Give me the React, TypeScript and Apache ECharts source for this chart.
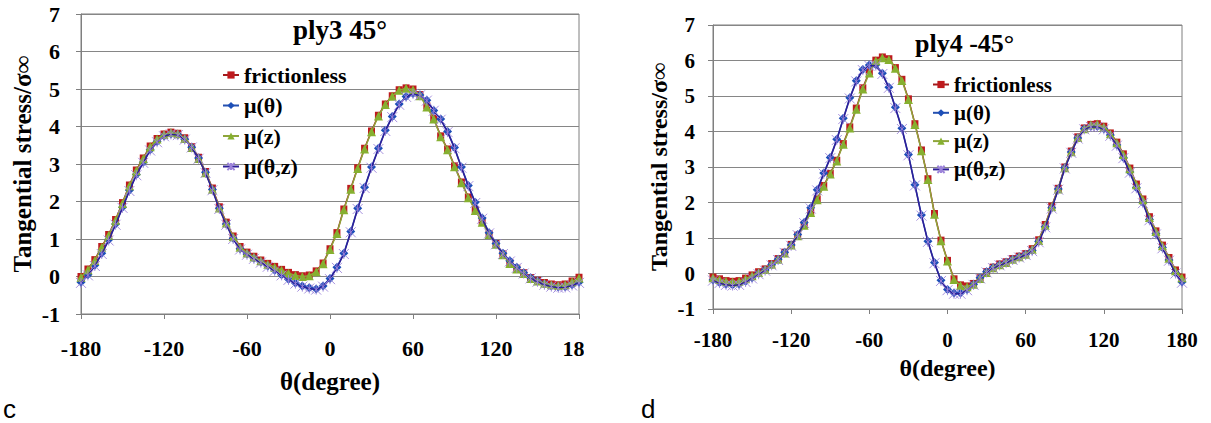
import React, { useEffect, useRef } from "react";
import * as echarts from "echarts";

const THETA = [
  -180, -175, -170, -165, -160, -155, -150, -145, -140, -135, -130, -125, -120,
  -115, -110, -105, -100, -95, -90, -85, -80, -75, -70, -65, -60, -55, -50, -45,
  -40, -35, -30, -25, -20, -15, -10, -5, 0, 5, 10, 15, 20, 25, 30, 35, 40, 45, 50,
  55, 60, 65, 70, 75, 80, 85, 90, 95, 100, 105, 110, 115, 120, 125, 130, 135, 140,
  145, 150, 155, 160, 165, 170, 175, 180,
];

const SERIES_NAMES = ["frictionless", "μ(θ)", "μ(z)", "μ(θ,z)"];

// ---- ply3 45° ----
const PLY3_FRICTIONLESS = [
  0.0, 0.2, 0.45, 0.8, 1.12, 1.52, 1.97, 2.44, 2.84, 3.16, 3.48, 3.68, 3.8,
  3.85, 3.82, 3.7, 3.46, 3.18, 2.8, 2.36, 1.86, 1.45, 1.08, 0.8, 0.65, 0.54, 0.44, 0.35,
  0.27, 0.19, 0.11, 0.05, 0.02, 0.04, 0.15, 0.36, 0.74, 1.17, 1.8, 2.35, 2.9, 3.42, 3.88, 4.3, 4.6, 4.82, 4.98,
  5.03, 5.0, 4.85, 4.55, 4.22, 3.75, 3.4, 2.95, 2.52, 2.12, 1.78, 1.47, 1.14, 0.88, 0.6, 0.37, 0.22, 0.1,
  -0.03, -0.1, -0.16, -0.2, -0.22, -0.2, -0.12, -0.02,
];
const PLY3_MU_THETA = [
  -0.15, 0.05, 0.3, 0.62, 0.98, 1.4, 1.85, 2.3, 2.72, 3.05, 3.38, 3.6, 3.75,
  3.8, 3.78, 3.66, 3.45, 3.16, 2.78, 2.32, 1.82, 1.4, 1.02, 0.74, 0.6, 0.49, 0.39, 0.28,
  0.17, 0.05, -0.07, -0.17, -0.25, -0.3, -0.33, -0.25, -0.05, 0.25, 0.62, 1.2, 1.82, 2.38, 2.92, 3.42, 3.9, 4.27, 4.6,
  4.8, 4.88, 4.84, 4.7, 4.43, 4.2, 3.87, 3.44, 2.92, 2.43, 1.98, 1.56, 1.17, 0.88, 0.62, 0.42, 0.25, 0.1,
  -0.03, -0.12, -0.2, -0.25, -0.28, -0.27, -0.22, -0.15,
];
const PLY3_MU_Z = [
  -0.02, 0.18, 0.43, 0.78, 1.1, 1.5, 1.95, 2.42, 2.82, 3.14, 3.46, 3.67, 3.79,
  3.84, 3.81, 3.68, 3.44, 3.15, 2.77, 2.33, 1.83, 1.43, 1.06, 0.78, 0.63, 0.52, 0.42, 0.33,
  0.25, 0.17, 0.09, 0.03, 0.0, 0.02, 0.13, 0.34, 0.72, 1.15, 1.78, 2.33, 2.88, 3.4, 3.86, 4.28, 4.59, 4.81, 4.97,
  5.02, 4.98, 4.82, 4.52, 4.2, 3.73, 3.38, 2.93, 2.5, 2.1, 1.76, 1.45, 1.12, 0.86, 0.58, 0.35, 0.2, 0.08,
  -0.05, -0.12, -0.18, -0.22, -0.24, -0.22, -0.14, -0.04,
];
const PLY3_MU_THETA_Z = [
  -0.17, 0.03, 0.28, 0.6, 0.96, 1.38, 1.83, 2.28, 2.7, 3.03, 3.36, 3.58, 3.74,
  3.79, 3.77, 3.65, 3.44, 3.14, 2.76, 2.3, 1.8, 1.38, 1.0, 0.72, 0.58, 0.47, 0.37, 0.26,
  0.15, 0.03, -0.09, -0.19, -0.27, -0.32, -0.35, -0.27, -0.07, 0.23, 0.6, 1.18, 1.8, 2.36, 2.9, 3.4, 3.88, 4.25, 4.58,
  4.79, 4.87, 4.83, 4.69, 4.42, 4.18, 3.85, 3.42, 2.9, 2.41, 1.96, 1.54, 1.15, 0.86, 0.6, 0.4, 0.23, 0.08,
  -0.05, -0.14, -0.22, -0.27, -0.3, -0.29, -0.24, -0.17,
];

// ---- ply4 -45° ----
const PLY4_FRICTIONLESS = [
  -0.1, -0.15, -0.2, -0.22, -0.2, -0.13, -0.04, 0.05, 0.13, 0.28, 0.42, 0.6, 0.82,
  1.08, 1.38, 1.74, 2.1, 2.48, 2.82, 3.19, 3.66, 4.13, 4.66, 5.23, 5.68, 6.01, 6.1, 6.05,
  5.8, 5.47, 4.92, 4.22, 3.48, 2.67, 1.69, 0.94, 0.37, -0.15, -0.32, -0.35, -0.28, -0.12, 0.05, 0.18, 0.27, 0.33, 0.42,
  0.49, 0.56, 0.7, 0.95, 1.38, 1.9, 2.4, 3.0, 3.45, 3.85, 4.1, 4.2, 4.22, 4.15, 3.96, 3.7, 3.37, 2.97,
  2.52, 2.1, 1.6, 1.2, 0.8, 0.45, 0.1, -0.1,
];
const PLY4_MU_THETA = [
  -0.18, -0.25, -0.3, -0.32, -0.3, -0.22, -0.12, 0.0, 0.1, 0.25, 0.4, 0.6, 0.8,
  1.1, 1.44, 1.85, 2.36, 2.83, 3.27, 3.78, 4.37, 4.95, 5.43, 5.75, 5.87, 5.88, 5.64, 5.25,
  4.68, 4.09, 3.35, 2.5, 1.65, 0.91, 0.31, -0.19, -0.45, -0.55, -0.55, -0.45, -0.3, -0.12, 0.05, 0.17, 0.25, 0.32, 0.4,
  0.47, 0.54, 0.65, 0.9, 1.32, 1.85, 2.38, 2.98, 3.42, 3.82, 4.08, 4.15, 4.15, 4.08, 3.9, 3.62, 3.27, 2.86,
  2.42, 2.0, 1.52, 1.12, 0.73, 0.38, 0.02, -0.24,
];
const PLY4_MU_Z = [
  -0.12, -0.17, -0.22, -0.24, -0.22, -0.15, -0.06, 0.03, 0.11, 0.26, 0.4, 0.58, 0.8,
  1.06, 1.36, 1.72, 2.08, 2.46, 2.8, 3.17, 3.64, 4.1, 4.63, 5.2, 5.65, 5.99, 6.08, 6.03,
  5.78, 5.44, 4.9, 4.2, 3.46, 2.65, 1.67, 0.92, 0.35, -0.17, -0.34, -0.37, -0.3, -0.14, 0.03, 0.16, 0.25, 0.31, 0.4,
  0.47, 0.54, 0.68, 0.93, 1.36, 1.88, 2.38, 2.98, 3.43, 3.83, 4.08, 4.19, 4.21, 4.13, 3.94, 3.68, 3.35, 2.95,
  2.5, 2.08, 1.58, 1.18, 0.78, 0.43, 0.08, -0.12,
];
const PLY4_MU_THETA_Z = [
  -0.2, -0.27, -0.32, -0.34, -0.32, -0.24, -0.14, -0.02, 0.08, 0.23, 0.38, 0.58, 0.78,
  1.08, 1.42, 1.83, 2.34, 2.81, 3.25, 3.76, 4.35, 4.93, 5.41, 5.73, 5.85, 5.86, 5.62, 5.23,
  4.66, 4.07, 3.33, 2.48, 1.63, 0.89, 0.29, -0.21, -0.47, -0.57, -0.57, -0.47, -0.32, -0.14, 0.03, 0.15, 0.23, 0.3, 0.38,
  0.45, 0.52, 0.63, 0.88, 1.3, 1.83, 2.36, 2.96, 3.4, 3.8, 4.06, 4.13, 4.13, 4.06, 3.88, 3.6, 3.25, 2.84,
  2.4, 1.98, 1.5, 1.1, 0.71, 0.36, 0.0, -0.26,
];

const SERIF = "Liberation Serif";
const STAR = "path://M5,0L5,10M0,0L10,10M0,10L10,0";

const STYLES = [
  { symbol: "rect", symbolSize: 7, color: "#BE1A1E", line: "#A31A1A", border: 0 },
  { symbol: "diamond", symbolSize: 9, color: "#1D4FB8", line: "#2550B0", border: 0 },
  { symbol: "triangle", symbolSize: 9, color: "#86B030", line: "#8FA53A", border: 0 },
  { symbol: STAR, symbolSize: 10, color: "#9D84DA", line: "#2E1E98", border: 0.9 },
];

function pairs(vals: number[]) {
  return THETA.map((t, i) => [t, vals[i]]);
}

function makeSeries(gridIdx: number, data: number[][]) {
  return data.map((vals, k) => {
    const s = STYLES[k];
    return {
      type: "line",
      name: SERIES_NAMES[k],
      xAxisIndex: gridIdx,
      yAxisIndex: gridIdx,
      data: pairs(vals),
      symbol: s.symbol,
      symbolSize: s.symbolSize,
      showSymbol: true,
      showAllSymbol: true,
      itemStyle: {
        color: k === 3 ? "none" : s.color,
        borderColor: s.color,
        borderWidth: s.border,
      },
      lineStyle: { color: s.line, width: 1.5 },
      emphasis: { disabled: true },
      z: 2 + k,
    };
  });
}

function xAxis(gridIdx: number, fs: number, margin: number, nameGap: number, nameFs: number) {
  return {
    gridIndex: gridIdx,
    type: "value",
    min: -180,
    max: 180,
    interval: 60,
    axisLine: { show: true, onZero: false, lineStyle: { color: "#7f7f7f", width: 1 } },
    axisTick: { show: true, inside: false, length: 5, lineStyle: { color: "#7f7f7f" } },
    splitLine: { show: false },
    axisLabel: { fontFamily: SERIF, fontWeight: "bold", fontSize: fs, color: "#000", margin },
    name: "θ(degree)",
    nameLocation: "middle",
    nameGap,
    nameTextStyle: { fontFamily: SERIF, fontWeight: "bold", fontSize: nameFs, color: "#000" },
  };
}

function yAxis(gridIdx: number, fs: number, margin: number, nameGap: number, nameFs: number) {
  return {
    gridIndex: gridIdx,
    type: "value",
    min: -1,
    max: 7,
    interval: 1,
    axisLine: { show: true, onZero: false, lineStyle: { color: "#7f7f7f", width: 1 } },
    axisTick: { show: true, inside: false, length: 5, lineStyle: { color: "#7f7f7f" } },
    splitLine: { show: true, lineStyle: { color: "#868686", width: 1 } },
    axisLabel: { fontFamily: SERIF, fontWeight: "bold", fontSize: fs, color: "#000", margin },
    name: "Tangential stress/σ∞",
    nameLocation: "middle",
    nameGap,
    nameRotate: 90,
    nameTextStyle: { fontFamily: SERIF, fontWeight: "bold", fontSize: nameFs, color: "#000" },
  };
}

export default function App() {
  const ref = useRef<HTMLDivElement>(null);

  useEffect(() => {
    if (!ref.current) return;
    const chart = echarts.init(ref.current, null, { renderer: "svg" });
    const option = {
      animation: false,
      backgroundColor: "#ffffff",
      grid: [
        { left: 81, top: 14, width: 498, height: 300, show: true, borderColor: "#7f7f7f", borderWidth: 1, backgroundColor: "transparent" },
        { left: 713, top: 25, width: 469, height: 284, show: true, borderColor: "#7f7f7f", borderWidth: 1, backgroundColor: "transparent" },
      ],
      xAxis: [xAxis(0, 22, 23, 55, 25), xAxis(1, 21, 20, 47, 24)],
      yAxis: [yAxis(0, 22, 21, 46, 25), yAxis(1, 21, 18, 42, 24)],
      title: [
        { text: "ply3 45°", left: 293, top: 16, padding: 0, textStyle: { fontFamily: SERIF, fontWeight: "bold", fontSize: 27, color: "#000" } },
        { text: "ply4 -45°", left: 915, top: 30, padding: 0, textStyle: { fontFamily: SERIF, fontWeight: "bold", fontSize: 26, color: "#000" } },
      ],
      legend: [
        {
          data: SERIES_NAMES,
          orient: "vertical",
          left: 222,
          top: 64,
          padding: 0,
          itemWidth: 16,
          itemHeight: 9,
          itemGap: 8.5,
          selectedMode: false,
          textStyle: { fontFamily: SERIF, fontWeight: "bold", fontSize: 22, lineHeight: 22, color: "#000" },
        },
        {
          data: SERIES_NAMES,
          orient: "vertical",
          left: 932,
          top: 74,
          padding: 0,
          itemWidth: 16,
          itemHeight: 9,
          itemGap: 7.3,
          selectedMode: false,
          textStyle: { fontFamily: SERIF, fontWeight: "bold", fontSize: 21, lineHeight: 21, color: "#000" },
        },
      ],
      graphic: [
        { type: "rect", left: 584, top: 328, z: 100, shape: { width: 40, height: 40 }, style: { fill: "#ffffff" } },
        { type: "text", left: 3, top: 396, z: 100, style: { text: "c", font: "26px Liberation Sans", fill: "#000" } },
        { type: "text", left: 641, top: 396, z: 100, style: { text: "d", font: "26px Liberation Sans", fill: "#000" } },
      ],
      series: [
        ...makeSeries(0, [PLY3_FRICTIONLESS, PLY3_MU_THETA, PLY3_MU_Z, PLY3_MU_THETA_Z]),
        ...makeSeries(1, [PLY4_FRICTIONLESS, PLY4_MU_THETA, PLY4_MU_Z, PLY4_MU_THETA_Z]),
      ],
    };
    chart.setOption(option as any);
    return () => chart.dispose();
  }, []);

  return (
    <div
      ref={ref}
      style={{ position: "fixed", left: 0, top: 0, width: 1211, height: 423, background: "#fff" }}
    />
  );
}
